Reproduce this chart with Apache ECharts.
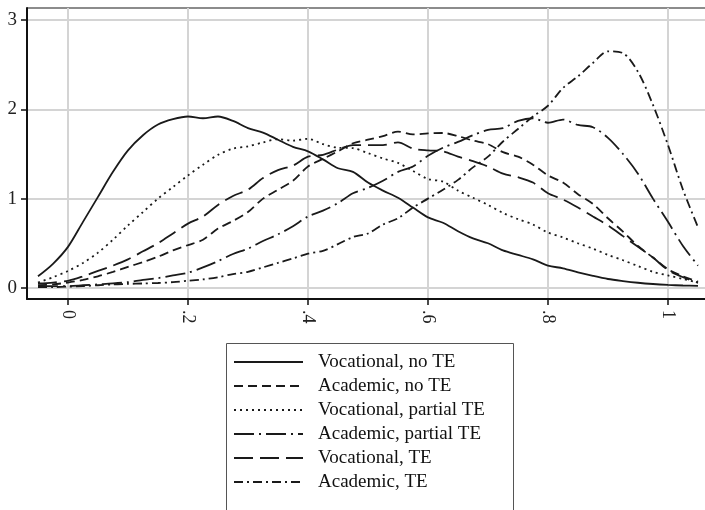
<!DOCTYPE html>
<html>
<head>
<meta charset="utf-8">
<script src="https://cdn.jsdelivr.net/npm/echarts@6/dist/echarts.min.js"></script>
<style>
  html, body { margin: 0; padding: 0; background: #fff; }
  #main { width: 705px; height: 510px; }
</style>
</head>
<body>
<div id="main"></div>
<script>
// grid of x positions the densities are read at
var xs = [-0.05, -0.025, 0, 0.025, 0.05, 0.075, 0.1, 0.125, 0.15, 0.175, 0.2, 0.225, 0.25, 0.275, 0.3,
  0.325, 0.35, 0.375, 0.4, 0.425, 0.45, 0.475, 0.5, 0.525, 0.55, 0.575, 0.6, 0.625, 0.65, 0.675, 0.7,
  0.725, 0.75, 0.775, 0.8, 0.825, 0.85, 0.875, 0.9, 0.925, 0.95, 0.975, 1, 1.025, 1.05];

var vocNoTE = [0.13, 0.27, 0.46, 0.74, 1.02, 1.3, 1.54, 1.71, 1.83, 1.89, 1.92, 1.9, 1.92, 1.87, 1.79,
  1.74, 1.66, 1.58, 1.53, 1.44, 1.34, 1.3, 1.18, 1.09, 1.01, 0.9, 0.79, 0.73, 0.635, 0.555, 0.5,
  0.42, 0.37, 0.32, 0.25, 0.22, 0.175, 0.135, 0.1, 0.077, 0.058, 0.044, 0.034, 0.027, 0.022];
var acaNoTE = [0.03, 0.04, 0.06, 0.09, 0.13, 0.18, 0.235, 0.29, 0.35, 0.42, 0.48, 0.54, 0.665, 0.75, 0.85,
  1.0, 1.1, 1.2, 1.36, 1.445, 1.53, 1.62, 1.66, 1.7, 1.75, 1.72, 1.73, 1.735, 1.7, 1.65, 1.61,
  1.52, 1.47, 1.38, 1.26, 1.18, 1.05, 0.94, 0.78, 0.63, 0.47, 0.34, 0.21, 0.13, 0.07];
var vocPartTE = [0.06, 0.12, 0.19, 0.28, 0.395, 0.54, 0.7, 0.85, 1.0, 1.13, 1.26, 1.38, 1.49, 1.56, 1.585,
  1.63, 1.665, 1.65, 1.67, 1.61, 1.57, 1.565, 1.51, 1.45, 1.4, 1.31, 1.22, 1.19, 1.09, 1.01, 0.93,
  0.84, 0.77, 0.71, 0.62, 0.565, 0.5, 0.44, 0.37, 0.31, 0.245, 0.18, 0.14, 0.1, 0.06];
var acaPartTE = [0.02, 0.02, 0.02, 0.03, 0.04, 0.05, 0.065, 0.09, 0.11, 0.14, 0.17, 0.23, 0.3, 0.38, 0.44,
  0.525, 0.6, 0.69, 0.8, 0.865, 0.95, 1.06, 1.12, 1.2, 1.3, 1.36, 1.48, 1.57, 1.635, 1.71, 1.77,
  1.79, 1.87, 1.9, 1.85, 1.885, 1.825, 1.8, 1.68, 1.5, 1.28, 1.0, 0.74, 0.47, 0.25];
var vocTE = [0.05, 0.06, 0.08, 0.13, 0.19, 0.25, 0.32, 0.41, 0.5, 0.61, 0.72, 0.8, 0.93, 1.03, 1.1,
  1.23, 1.32, 1.37, 1.47, 1.49, 1.55, 1.6, 1.6, 1.6, 1.63, 1.56, 1.54, 1.53, 1.47, 1.42, 1.36,
  1.28, 1.24, 1.18, 1.06, 0.99, 0.9, 0.8, 0.7, 0.58, 0.46, 0.34, 0.2, 0.12, 0.06];
var acaTE = [0.01, 0.01, 0.015, 0.02, 0.03, 0.04, 0.045, 0.05, 0.055, 0.065, 0.08, 0.095, 0.12, 0.155, 0.18,
  0.23, 0.28, 0.33, 0.385, 0.415, 0.49, 0.57, 0.61, 0.71, 0.78, 0.9, 1.0, 1.1, 1.21, 1.35, 1.47,
  1.64, 1.78, 1.92, 2.04, 2.24, 2.37, 2.52, 2.65, 2.63, 2.42, 2.05, 1.6, 1.1, 0.68];

var seriesNames = ['Vocational, no TE', 'Academic, no TE', 'Vocational, partial TE',
  'Academic, partial TE', 'Vocational, TE', 'Academic, TE'];

var xTickValues = [0, 0.2, 0.4, 0.6, 0.8, 1];
var xTickLabels = ['0', '.2', '.4', '.6', '.8', '1'];
var yTickValues = [0, 1, 2, 3];
var yTickLabels = ['0', '1', '2', '3'];

var font = 'Liberation Serif';
var ink = '#1a1a1a';

function pairs(ys) {
  return xs.map(function (x, i) { return [x, ys[i]]; });
}

var allY = [vocNoTE, acaNoTE, vocPartTE, acaPartTE, vocTE, acaTE];
var dashes = ['solid', [9, 5], [2, 4], [20, 5, 2, 5], [19, 7], [9, 4, 2, 4]];

var chart = echarts.init(document.getElementById('main'));

chart.setOption({
  backgroundColor: '#fff',
  animation: false,
  grid: { left: 27, right: 0, top: 8, bottom: 211, containLabel: false },
  xAxis: {
    type: 'value',
    min: -0.0683,
    max: 1.0617,
    axisLine: { show: true, onZero: false, lineStyle: { color: '#111', width: 2 } },
    axisTick: { show: true, length: 6, customValues: xTickValues, lineStyle: { color: '#111', width: 1.5 } },
    axisLabel: {
      customValues: xTickValues,
      rotate: -90,
      margin: 11,
      fontFamily: font,
      fontSize: 18,
      color: '#222',
      formatter: function (v) {
        var i = xTickValues.findIndex(function (t) { return Math.abs(t - v) < 1e-6; });
        return i >= 0 ? xTickLabels[i] : '';
      }
    },
    splitLine: { show: true, lineStyle: { color: '#d4d4d4', width: 2 } }
  },
  yAxis: {
    type: 'value',
    min: -0.124,
    max: 3.135,
    axisLine: { show: true, onZero: false, lineStyle: { color: '#111', width: 2 } },
    axisTick: { show: true, length: 6, customValues: yTickValues, lineStyle: { color: '#111', width: 1.5 } },
    axisLabel: {
      customValues: yTickValues,
      margin: 10,
      fontFamily: font,
      fontSize: 19,
      color: '#222',
      formatter: function (v) {
        var i = yTickValues.findIndex(function (t) { return Math.abs(t - v) < 1e-6; });
        return i >= 0 ? yTickLabels[i] : '';
      }
    },
    splitLine: { show: true, lineStyle: { color: '#d4d4d4', width: 2 } }
  },
  legend: {
    orient: 'vertical',
    left: 233,
    top: 350,
    padding: 0,
    itemGap: 0,
    itemWidth: 69,
    itemHeight: 24,
    itemStyle: { opacity: 0 },
    data: seriesNames,
    textStyle: { fontFamily: font, fontSize: 19, color: '#111', lineHeight: 24, padding: [0, 0, 0, 10] }
  },
  graphic: [
    {
      type: 'rect',
      shape: { x: 226.5, y: 343.5, width: 287, height: 180 },
      style: { fill: 'none', stroke: '#555', lineWidth: 1 },
      silent: true
    },
    {
      type: 'line',
      shape: { x1: 27, y1: 8, x2: 705, y2: 8 },
      style: { stroke: '#666', lineWidth: 1.5 },
      silent: true
    }
  ],
  series: seriesNames.map(function (name, k) {
    return {
      name: name,
      type: 'line',
      data: pairs(allY[k]),
      symbol: 'none',
      smooth: 0.3,
      lineStyle: { color: ink, width: 1.8, type: dashes[k] },
      itemStyle: { color: ink }
    };
  })
});
</script>
</body>
</html>
